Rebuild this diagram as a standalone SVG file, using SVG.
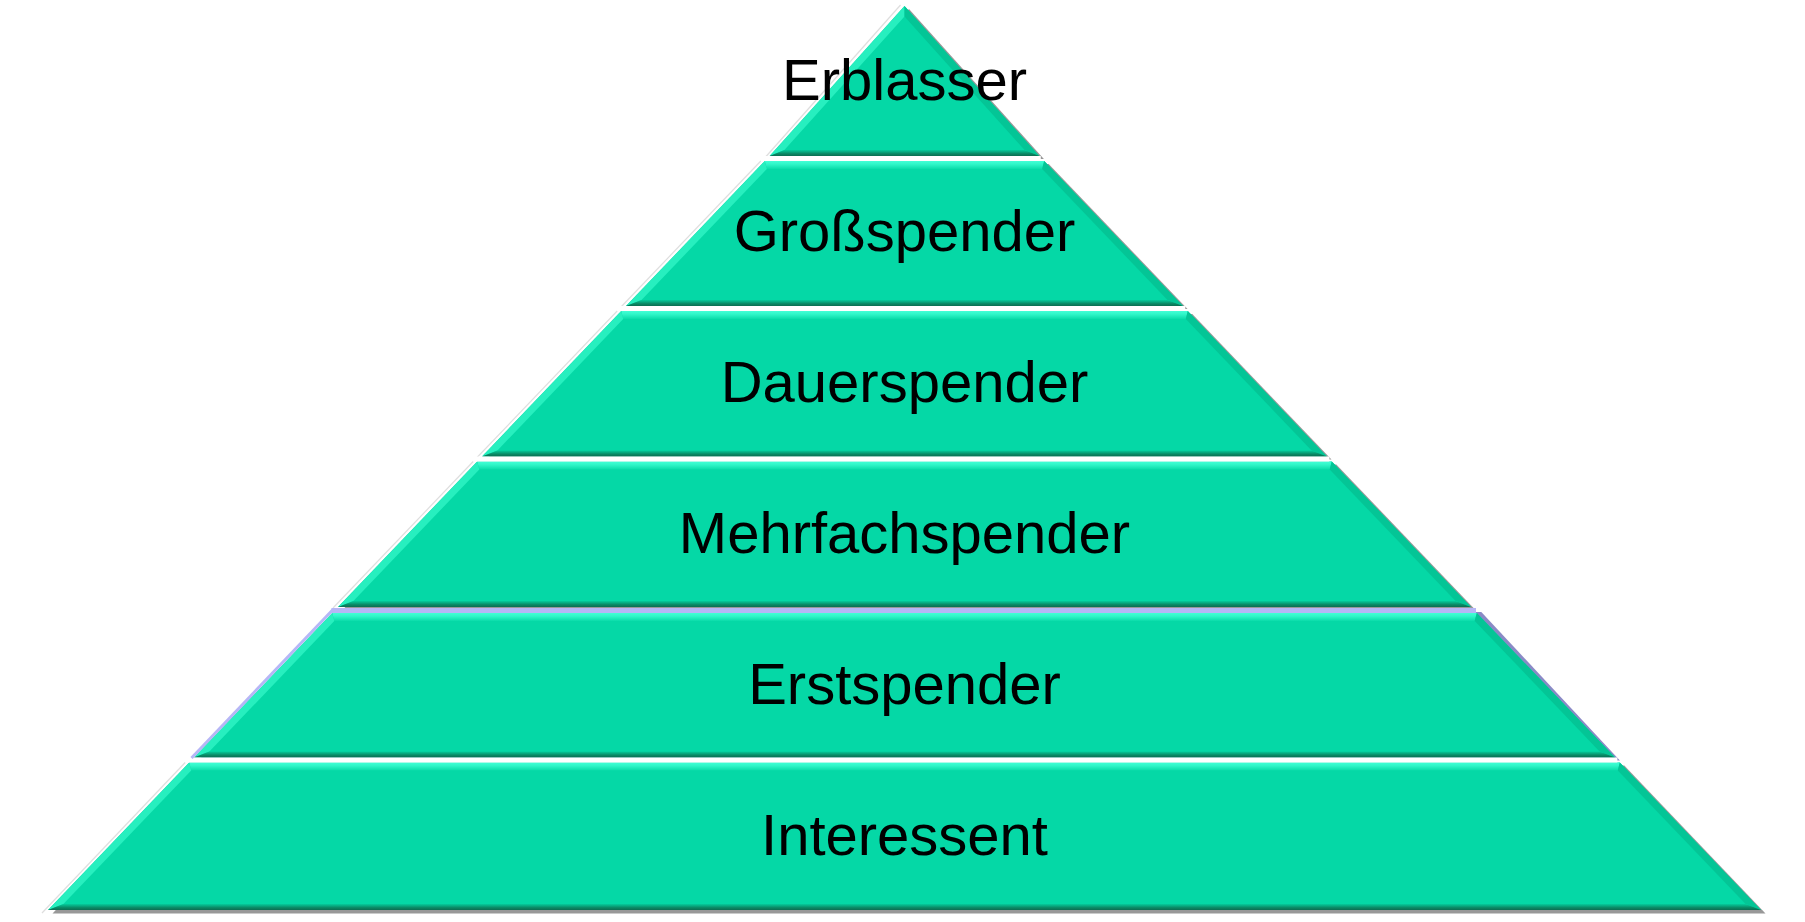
<svg xmlns="http://www.w3.org/2000/svg" width="1805" height="922" viewBox="0 0 1805 922">
<defs>
<linearGradient id="gTop" x1="0" y1="0" x2="0" y2="1">
<stop offset="0" stop-color="#42ffd6"/><stop offset="0.4" stop-color="#30f6c8"/><stop offset="1" stop-color="#0bdcaa"/>
</linearGradient>
<linearGradient id="gBot" x1="0" y1="0" x2="0" y2="1">
<stop offset="0" stop-color="#05cc9c"/><stop offset="0.6" stop-color="#0a8a66"/><stop offset="1" stop-color="#0b6e52"/>
</linearGradient>
<filter id="blur" x="-5%" y="-5%" width="110%" height="110%"><feGaussianBlur stdDeviation="0.6"/></filter>
</defs>
<style>
.main{fill:#05d8a6}
.top{fill:url(#gTop)}
.left{fill:#27efbf}
.right{fill:#04c596}
.bot{fill:url(#gBot)}
.sh{fill:#989898;filter:url(#blur)}
.shp{fill:#8a8ac6;filter:url(#blur)}
.edge{stroke:#dedede;stroke-width:1.2;fill:none}
.gap{stroke:#ffffff;stroke-width:5;fill:none}
.lav{stroke:#b6b6f6;fill:none}
.lbl{font-family:"Liberation Sans",Arial,sans-serif;font-size:58px;fill:#000;text-anchor:middle}
</style>
<rect width="1805" height="922" fill="#ffffff"/>
<g id="shadows">
<g transform="translate(1.5,0)">
<polygon class="sh" points="907.5,9 1042.4,159 772.6,159"/>
<polygon class="sh" points="767.8,164 1047.2,164 1186,309 629,309"/>
<polygon class="sh" points="624.2,314 1190.8,314 1330,459.5 485,459.5"/>
<polygon class="sh" points="480.2,464.5 1334.8,464.5 1474,610 341,610"/>
<polygon class="shp" points="335.2,616 1479.8,612 1618.4,760.5 196.9,760.5"/>
<polygon class="sh" points="192.2,765.5 1622.8,765.5 1764,913.5 51,913.5"/>
</g>
<polyline class="edge" points="900.5,5 765.6,157"/>
<polyline class="edge" points="760.8,161 621,307"/>
<polyline class="edge" points="617.2,311 477,457.5"/>
<polyline class="edge" points="473.2,461.5 333,608"/>
<polyline class="edge" points="185.2,762.5 42,913"/>
</g>
<g id="erblasser">
<polygon class="main" points="904.5,6 1039.4,156 769.6,156"/>
<polygon class="left" points="769.6,156 904.5,6 904.5,16.5 784.4,150"/>
<polygon class="right" points="904.5,6 1039.4,156 1024.6,150 904.5,16.5"/>
<polygon class="bot" points="784.4,150 1024.6,150 1039.4,156 769.6,156"/>
<text class="lbl" x="904.5" y="100">Erblasser</text>
</g>
<g id="grossspender">
<polygon class="main" points="764.8,161 1044.2,161 1183,306 626,306"/>
<polygon class="top" points="764.8,161 1044.2,161 1042.2,169 766.8,169"/>
<polygon class="left" points="626,306 764.8,161 766.8,169 641.5,300"/>
<polygon class="right" points="1044.2,161 1183,306 1167.5,300 1042.2,169"/>
<polygon class="bot" points="641.5,300 1167.5,300 1183,306 626,306"/>
<text class="lbl" x="904.5" y="251">Großspender</text>
</g>
<g id="dauerspender">
<polygon class="main" points="621.2,311 1187.8,311 1327,456.5 482,456.5"/>
<polygon class="top" points="621.2,311 1187.8,311 1185.8,319 623.2,319"/>
<polygon class="left" points="482,456.5 621.2,311 623.2,319 497.4,450.5"/>
<polygon class="right" points="1187.8,311 1327,456.5 1311.6,450.5 1185.8,319"/>
<polygon class="bot" points="497.4,450.5 1311.6,450.5 1327,456.5 482,456.5"/>
<text class="lbl" x="904.5" y="402">Dauerspender</text>
</g>
<g id="mehrfachspender">
<polygon class="main" points="477.2,461.5 1331.8,461.5 1471,607 338,607"/>
<polygon class="top" points="477.2,461.5 1331.8,461.5 1329.7,469.5 479.3,469.5"/>
<polygon class="left" points="338,607 477.2,461.5 479.3,469.5 353.4,601"/>
<polygon class="right" points="1331.8,461.5 1471,607 1455.6,601 1329.7,469.5"/>
<polygon class="bot" points="353.4,601 1455.6,601 1471,607 338,607"/>
<text class="lbl" x="904.5" y="553">Mehrfachspender</text>
</g>
<g id="erstspender">
<polygon class="main" points="332.2,613 1476.8,613 1615.1,757.5 193.9,757.5"/>
<polygon class="top" points="332.2,613 1476.8,613 1474.7,621 334.3,621"/>
<polygon class="left" points="193.9,757.5 332.2,613 334.3,621 209.4,751.5"/>
<polygon class="right" points="1476.8,613 1615.1,757.5 1599.6,751.5 1474.7,621"/>
<polygon class="bot" points="209.4,751.5 1599.6,751.5 1615.1,757.5 193.9,757.5"/>
<text class="lbl" x="904.5" y="704">Erstspender</text>
</g>
<g id="interessent">
<polygon class="main" points="189.2,762.5 1619.8,762.5 1761,910 48,910"/>
<polygon class="top" points="189.2,762.5 1619.8,762.5 1617.8,770.5 191.2,770.5"/>
<polygon class="left" points="48,910 189.2,762.5 191.2,770.5 63.4,904"/>
<polygon class="right" points="1619.8,762.5 1761,910 1745.6,904 1617.8,770.5"/>
<polygon class="bot" points="63.4,904 1745.6,904 1761,910 48,910"/>
<text class="lbl" x="904.5" y="855">Interessent</text>
</g>
<g id="connectors">
<line class="gap" x1="764" y1="158.5" x2="1040.8" y2="158.5"/>
<line class="gap" x1="619" y1="308.5" x2="1185.3" y2="308.5"/>
<line class="gap" x1="475" y1="459" x2="1329.4" y2="459"/>
<line class="gap" x1="187" y1="760" x2="1617.4" y2="760"/>
<line class="lav" stroke-width="5" x1="331.5" y1="610.5" x2="1476" y2="610.5"/>
<line class="lav" stroke-width="3" x1="333.5" y1="609" x2="191.5" y2="758"/>
</g>
</svg>
